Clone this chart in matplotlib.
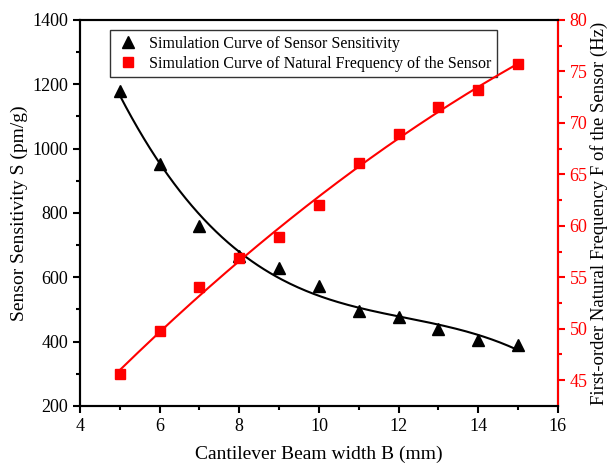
import numpy as np
import matplotlib.pyplot as plt

plt.rcParams['font.family'] = ['Liberation Serif', 'DejaVu Serif']

# beam width (mm)
width_b = [5, 6, 7, 8, 9, 10, 11, 12, 13, 14, 15]
# sensor sensitivity (pm/g)
sensitivity = [1180, 952, 760, 665, 630, 573, 495, 476, 439, 405, 390]
# first-order natural frequency (Hz)
frequency = [45.6, 49.8, 54.1, 56.9, 58.9, 62.0, 66.1, 68.9, 71.5, 73.2, 75.7]

x = np.array(width_b, dtype=float)
xs = np.linspace(5, 15, 200)
s_fit = np.polyval(np.polyfit(x, sensitivity, 3), xs)
f_fit = np.polyval(np.polyfit(x, frequency, 2), xs)

fig = plt.figure(figsize=(6.11, 4.65), dpi=100)
ax = fig.add_axes([0.131, 0.127, 0.782, 0.830])
ax2 = ax.twinx()

ax.plot(xs, s_fit, color='black', lw=1.5)
l1, = ax.plot(x, sensitivity, '^', color='black', ms=8, ls='none',
              label='Simulation Curve of Sensor Sensitivity')
ax2.plot(xs, f_fit, color='red', lw=1.5)
l2, = ax2.plot(x, frequency, 's', color='red', ms=7, ls='none',
               label='Simulation Curve of Natural Frequency of the Sensor')

ax.set_xlim(4, 16)
ax.set_ylim(200, 1400)
ax2.set_ylim(42.5, 80)
ax.set_xticks(np.arange(4, 17, 2))
ax.set_xticks(np.arange(5, 16, 2), minor=True)
ax.set_yticks(np.arange(200, 1401, 200))
ax.set_yticks(np.arange(300, 1400, 200), minor=True)
ax2.set_yticks(np.arange(45, 81, 5))
ax2.set_yticks(np.arange(47.5, 80, 5), minor=True)

ax.set_xlabel('Cantilever Beam width B (mm)', fontsize=14, labelpad=8)
ax.set_ylabel('Sensor Sensitivity S (pm/g)', fontsize=14, labelpad=3)
ax2.set_ylabel('First-order Natural Frequency F of the Sensor (Hz)', fontsize=13.5, labelpad=2)

for a in (ax, ax2):
    for sp in a.spines.values():
        sp.set_linewidth(1.5)
ax2.spines['right'].set_color('red')
ax.tick_params(which='both', direction='out', width=1.5, labelsize=13)
ax.tick_params(which='major', length=5)
ax.tick_params(which='minor', length=3)
ax2.tick_params(which='both', direction='out', width=1.5, colors='red', labelsize=13)
ax2.tick_params(which='major', length=5)
ax2.tick_params(which='minor', length=3)

leg = ax.legend(handles=[l1, l2], loc='upper left', bbox_to_anchor=(0.063, 0.974),
                borderaxespad=0, fontsize=11.5, frameon=True, fancybox=False,
                edgecolor='black', handletextpad=0.6, borderpad=0.35,
                labelspacing=0.25, handlelength=1.5)
leg.get_frame().set_linewidth(1.0)

fig.savefig('out.png', dpi=100)
